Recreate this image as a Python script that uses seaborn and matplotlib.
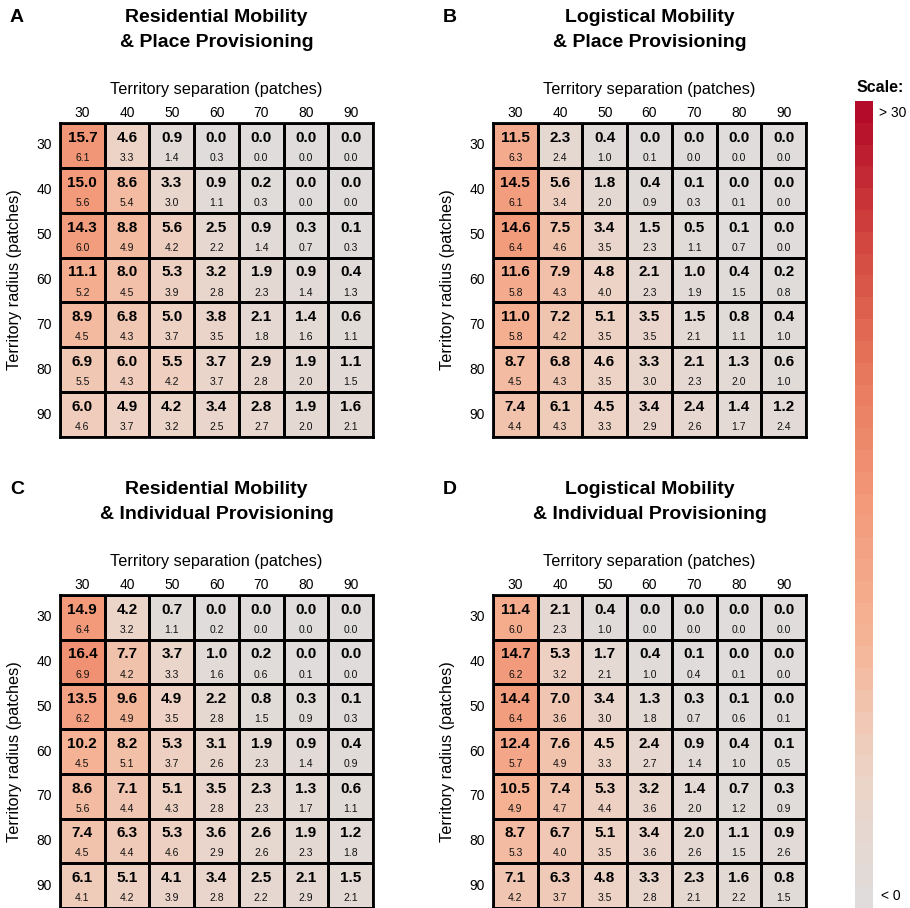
import matplotlib
matplotlib.use("Agg")
import matplotlib.pyplot as plt
from matplotlib.colors import LinearSegmentedColormap, ListedColormap, Normalize
import matplotlib.cm as cm
import numpy as np
import pandas as pd
import seaborn as sns

sns.set_theme(style="white")
plt.rcParams['font.family'] = ['Liberation Sans', 'DejaVu Sans']
plt.rcParams['text.color'] = 'black'
plt.rcParams['axes.labelcolor'] = 'black'
plt.rcParams['xtick.color'] = 'black'
plt.rcParams['ytick.color'] = 'black'

separation = [30, 40, 50, 60, 70, 80, 90]
radius = [30, 40, 50, 60, 70, 80, 90]

res_place_mean = [[15.7, 4.6, 0.9, 0.0, 0.0, 0.0, 0.0],
                  [15.0, 8.6, 3.3, 0.9, 0.2, 0.0, 0.0],
                  [14.3, 8.8, 5.6, 2.5, 0.9, 0.3, 0.1],
                  [11.1, 8.0, 5.3, 3.2, 1.9, 0.9, 0.4],
                  [8.9, 6.8, 5.0, 3.8, 2.1, 1.4, 0.6],
                  [6.9, 6.0, 5.5, 3.7, 2.9, 1.9, 1.1],
                  [6.0, 4.9, 4.2, 3.4, 2.8, 1.9, 1.6]]
res_place_sd = [[6.1, 3.3, 1.4, 0.3, 0.0, 0.0, 0.0],
                [5.6, 5.4, 3.0, 1.1, 0.3, 0.0, 0.0],
                [6.0, 4.9, 4.2, 2.2, 1.4, 0.7, 0.3],
                [5.2, 4.5, 3.9, 2.8, 2.3, 1.4, 1.3],
                [4.5, 4.3, 3.7, 3.5, 1.8, 1.6, 1.1],
                [5.5, 4.3, 4.2, 3.7, 2.8, 2.0, 1.5],
                [4.6, 3.7, 3.2, 2.5, 2.7, 2.0, 2.1]]

log_place_mean = [[11.5, 2.3, 0.4, 0.0, 0.0, 0.0, 0.0],
                  [14.5, 5.6, 1.8, 0.4, 0.1, 0.0, 0.0],
                  [14.6, 7.5, 3.4, 1.5, 0.5, 0.1, 0.0],
                  [11.6, 7.9, 4.8, 2.1, 1.0, 0.4, 0.2],
                  [11.0, 7.2, 5.1, 3.5, 1.5, 0.8, 0.4],
                  [8.7, 6.8, 4.6, 3.3, 2.1, 1.3, 0.6],
                  [7.4, 6.1, 4.5, 3.4, 2.4, 1.4, 1.2]]
log_place_sd = [[6.3, 2.4, 1.0, 0.1, 0.0, 0.0, 0.0],
                [6.1, 3.4, 2.0, 0.9, 0.3, 0.1, 0.0],
                [6.4, 4.6, 3.5, 2.3, 1.1, 0.7, 0.0],
                [5.8, 4.3, 4.0, 2.3, 1.9, 1.5, 0.8],
                [5.8, 4.2, 3.5, 3.5, 2.1, 1.1, 1.0],
                [4.5, 4.3, 3.5, 3.0, 2.3, 2.0, 1.0],
                [4.4, 4.3, 3.3, 2.9, 2.6, 1.7, 2.4]]

res_indiv_mean = [[14.9, 4.2, 0.7, 0.0, 0.0, 0.0, 0.0],
                  [16.4, 7.7, 3.7, 1.0, 0.2, 0.0, 0.0],
                  [13.5, 9.6, 4.9, 2.2, 0.8, 0.3, 0.1],
                  [10.2, 8.2, 5.3, 3.1, 1.9, 0.9, 0.4],
                  [8.6, 7.1, 5.1, 3.5, 2.3, 1.3, 0.6],
                  [7.4, 6.3, 5.3, 3.6, 2.6, 1.9, 1.2],
                  [6.1, 5.1, 4.1, 3.4, 2.5, 2.1, 1.5]]
res_indiv_sd = [[6.4, 3.2, 1.1, 0.2, 0.0, 0.0, 0.0],
                [6.9, 4.2, 3.3, 1.6, 0.6, 0.1, 0.0],
                [6.2, 4.9, 3.5, 2.8, 1.5, 0.9, 0.3],
                [4.5, 5.1, 3.7, 2.6, 2.3, 1.4, 0.9],
                [5.6, 4.4, 4.3, 2.8, 2.3, 1.7, 1.1],
                [4.5, 4.4, 4.6, 2.9, 2.6, 2.3, 1.8],
                [4.1, 4.2, 3.9, 2.8, 2.2, 2.9, 2.1]]

log_indiv_mean = [[11.4, 2.1, 0.4, 0.0, 0.0, 0.0, 0.0],
                  [14.7, 5.3, 1.7, 0.4, 0.1, 0.0, 0.0],
                  [14.4, 7.0, 3.4, 1.3, 0.3, 0.1, 0.0],
                  [12.4, 7.6, 4.5, 2.4, 0.9, 0.4, 0.1],
                  [10.5, 7.4, 5.3, 3.2, 1.4, 0.7, 0.3],
                  [8.7, 6.7, 5.1, 3.4, 2.0, 1.1, 0.9],
                  [7.1, 6.3, 4.8, 3.3, 2.3, 1.6, 0.8]]
log_indiv_sd = [[6.0, 2.3, 1.0, 0.0, 0.0, 0.0, 0.0],
                [6.2, 3.2, 2.1, 1.0, 0.4, 0.1, 0.0],
                [6.4, 3.6, 3.0, 1.8, 0.7, 0.6, 0.1],
                [5.7, 4.9, 3.3, 2.7, 1.4, 1.0, 0.5],
                [4.9, 4.7, 4.4, 3.6, 2.0, 1.2, 0.9],
                [5.3, 4.0, 3.5, 3.6, 2.6, 1.5, 2.6],
                [4.2, 3.7, 3.5, 2.8, 2.1, 2.2, 1.5]]

panels = [
    ('A', 'Residential Mobility\n& Place Provisioning', res_place_mean, res_place_sd),
    ('B', 'Logistical Mobility\n& Place Provisioning', log_place_mean, log_place_sd),
    ('C', 'Residential Mobility\n& Individual Provisioning', res_indiv_mean, res_indiv_sd),
    ('D', 'Logistical Mobility\n& Individual Provisioning', log_indiv_mean, log_indiv_sd),
]

# gray -> salmon -> dark red, 0..30
cmap = LinearSegmentedColormap.from_list('scale', [
    (0.0, '#dfdcdb'),
    (5 / 30, '#edd2c4'),
    (10 / 30, '#f5b395'),
    (15 / 30, '#f29a7a'),
    (20 / 30, '#e8785d'),
    (25 / 30, '#d2483f'),
    (1.0, '#b30b29'),
])

W, H = 910, 908
fig = plt.figure(figsize=(W / 100, H / 100), dpi=100)

# pixel boxes: left, top, width, height
boxes = {'A': (60, 123, 313, 314), 'B': (493, 123, 313, 314),
         'C': (60, 595, 313, 313), 'D': (493, 595, 313, 313)}

for letter, title, mean, sd in panels:
    l, t, w, h = boxes[letter]
    ax = fig.add_axes([l / W, 1 - (t + h) / H, w / W, h / H])
    df = pd.DataFrame(mean, index=radius, columns=separation)
    sns.heatmap(df, ax=ax, cmap=cmap, vmin=0, vmax=30, cbar=False,
                linewidths=2, linecolor='black', square=False)
    for i in range(len(radius)):
        for j in range(len(separation)):
            ax.text(j + 0.5, i + 0.33, f'{mean[i][j]:.1f}', ha='center', va='center',
                    fontsize=11, fontweight='bold', color='black')
            ax.text(j + 0.5, i + 0.78, f'{sd[i][j]:.1f}', ha='center', va='center',
                    fontsize=7.5, color='#111111')
    for side in ['top', 'bottom', 'left', 'right']:
        ax.spines[side].set_visible(True)
        ax.spines[side].set_color('black')
        ax.spines[side].set_linewidth(2)
    ax.xaxis.tick_top()
    ax.xaxis.set_label_position('top')
    ax.tick_params(axis='x', length=0, labelsize=10, pad=2)
    ax.tick_params(axis='y', length=0, labelsize=10, rotation=0, pad=6)
    ax.set_xlabel('Territory separation (patches)', fontsize=11.7, labelpad=9)
    ax.set_ylabel('Territory radius (patches)', fontsize=11.7, labelpad=10)
    ty = t - 106
    fig.text((l - 50) / W, 1 - ty / H, letter, fontsize=14, fontweight='bold', va='center')
    fig.text((l + w / 2) / W, 1 - (ty + 13) / H, title, fontsize=14, fontweight='bold',
             ha='center', va='center', linespacing=1.6)

# banded scale bar
cax = fig.add_axes([855 / W, 0, 18 / W, 1 - 101 / H])
bands = ListedColormap(cmap(np.linspace(0, 1, 37)))
cb = fig.colorbar(cm.ScalarMappable(norm=Normalize(0, 30), cmap=bands), cax=cax)
cb.outline.set_visible(False)
cb.set_ticks([])
fig.text(880 / W, 1 - 87 / H, 'Scale:', fontsize=11.5, fontweight='bold', ha='center', va='center')
fig.text(879 / W, 1 - 113 / H, '> 30', fontsize=10, ha='left', va='center')
fig.text(881 / W, 1 - 896 / H, '< 0', fontsize=10, ha='left', va='center')

fig.savefig('out.png', dpi=100)
